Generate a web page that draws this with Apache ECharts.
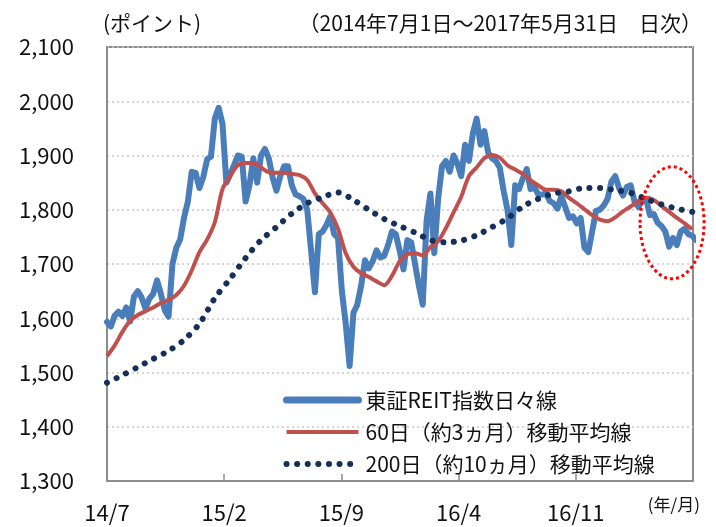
<!DOCTYPE html>
<html>
<head>
<meta charset="utf-8">
<script src="https://cdn.jsdelivr.net/npm/echarts@6/dist/echarts.min.js"></script>
<style>
html, body { margin: 0; padding: 0; background: #fff; }
#charts { width: 716px; height: 527px; }
</style>
</head>
<body>
<div id="charts"></div>
<script>
// period starts 2014-07-01, x axis is counted in months from there
var daysPerMonth = 30.4375;
var xTickLabels = ['14/7', '15/2', '15/9', '16/4', '16/11'];

// weekly readings of the daily REIT index (step 7 days)
var reitStep = 7;
var reitWeekly = [
    1593, 1585, 1605, 1612, 1604, 1620, 1594, 1640, 1650, 1638,
    1618, 1636, 1645, 1670, 1645, 1615, 1603, 1700, 1730, 1745,
    1785, 1815, 1870, 1868, 1840, 1860, 1893, 1898, 1968, 1988,
    1958, 1850, 1865, 1882, 1900, 1898, 1815, 1845, 1895, 1850,
    1900, 1912, 1895, 1860, 1835, 1862, 1880, 1880, 1845, 1828,
    1825, 1820, 1800, 1725, 1648, 1755, 1760, 1772, 1788, 1755,
    1748, 1650, 1590, 1512, 1610, 1625, 1660, 1707, 1692, 1705,
    1725, 1712, 1715, 1735, 1760, 1755, 1725, 1690, 1744, 1740,
    1700, 1660, 1625, 1780, 1830, 1720, 1820, 1880, 1890, 1870,
    1900, 1885, 1862, 1920, 1890, 1940, 1968, 1920, 1945, 1905,
    1895, 1890, 1878, 1835, 1800, 1735, 1845, 1838, 1858, 1875,
    1838, 1842, 1828, 1828, 1830, 1816, 1812, 1802, 1825, 1805,
    1785, 1788, 1775, 1785, 1730, 1722, 1760, 1798, 1800, 1808,
    1820, 1852, 1862, 1840, 1826, 1842, 1845, 1815, 1805, 1818,
    1820, 1790, 1792, 1776, 1770, 1760, 1732, 1748, 1735, 1760,
    1765, 1755, 1752, 1744
];

// 60-day moving average, read every 14 days
var ma60Step = 14;
var ma60 = [
    1530, 1550, 1575, 1595, 1606, 1613, 1620, 1628, 1634, 1643,
    1660, 1688, 1722, 1745, 1777, 1838, 1862, 1882, 1886, 1886,
    1878, 1869, 1868, 1868, 1866, 1864, 1855, 1830, 1812, 1795,
    1765, 1720, 1695, 1683, 1676, 1668, 1661, 1678, 1705, 1718,
    1720, 1716, 1731, 1742, 1766, 1795, 1824, 1862, 1878, 1895,
    1901, 1896, 1882, 1874, 1866, 1854, 1845, 1837, 1837, 1834,
    1822, 1812, 1801, 1790, 1782, 1779, 1786, 1797, 1806, 1816,
    1822, 1818, 1807, 1796, 1785, 1775, 1764
];

// 200-day moving average, read every 28 days
var ma200Step = 28;
var ma200 = [
    1481, 1495, 1510, 1525, 1540, 1560, 1590, 1637, 1673, 1711,
    1744, 1768, 1793, 1812, 1823, 1832, 1818, 1800, 1783, 1770,
    1758, 1744, 1740, 1743, 1753, 1768, 1784, 1806, 1820, 1830,
    1834, 1840, 1840, 1836, 1831, 1820, 1810, 1802, 1796
];

var seriesNames = ['東証REIT指数日々線', '60日（約3ヵ月）移動平均線', '200日（約10ヵ月）移動平均線'];
var colors = ['#4a7ebb', '#c0504d', '#17305a'];

function toPairs(values, stepDays) {
    var out = [];
    for (var i = 0; i < values.length; i++) {
        out.push([i * stepDays / daysPerMonth, values[i]]);
    }
    return out;
}

var font = 'Noto Sans CJK JP';
var chart = echarts.init(document.getElementById('charts'));

var dotLine = { color: colors[2], width: 6, type: [0.1, 10.5], cap: 'round' };

var option = {
    animation: false,
    textStyle: { fontFamily: font },
    grid: {
        left: 107, right: 23, top: 47, bottom: 46,
        show: true,
        borderColor: '#8c8c8c',
        borderWidth: 2
    },
    legend: {
        orient: 'vertical',
        left: 278,
        top: 383,
        itemWidth: 72,
        itemHeight: 14,
        itemGap: 8,
        itemStyle: { color: 'rgba(0,0,0,0)', borderWidth: 0 },
        textStyle: { fontFamily: font, fontSize: 21, color: '#111', lineHeight: 24, padding: [0, 0, 0, 2] },
        data: [
            { name: seriesNames[0], lineStyle: { color: colors[0], width: 7, cap: 'round' } },
            { name: seriesNames[1], lineStyle: { color: colors[1], width: 4 } },
            { name: seriesNames[2], lineStyle: dotLine }
        ]
    },
    xAxis: {
        type: 'value',
        min: 0,
        max: 35,
        interval: 7,
        axisLine: { show: true, lineStyle: { color: '#8c8c8c', width: 2 } },
        axisTick: { show: true, inside: true, length: 7, lineStyle: { color: '#8c8c8c', width: 1.5 } },
        splitLine: { show: false },
        axisLabel: {
            margin: 21,
            fontSize: 22,
            color: '#111',
            fontFamily: font,
            formatter: function (v) {
                var k = Math.round(v / 7);
                return xTickLabels[k] || '';
            }
        }
    },
    yAxis: {
        type: 'value',
        min: 1300,
        max: 2100,
        interval: 100,
        axisLine: { show: true, lineStyle: { color: '#8c8c8c', width: 2 } },
        axisTick: { show: false },
        splitLine: { show: true, lineStyle: { color: '#c8c8c8', type: [2, 3], width: 1.5 } },
        axisLabel: {
            margin: 33,
            fontSize: 22,
            color: '#111',
            fontFamily: font,
            formatter: function (v) {
                return String(v).replace(/\B(?=(\d{3})+(?!\d))/g, ',');
            }
        }
    },
    series: [
        {
            name: seriesNames[0],
            type: 'line',
            symbol: 'none',
            lineStyle: { color: colors[0], width: 6, cap: 'round', join: 'round' },
            itemStyle: { color: colors[0] },
            data: toPairs(reitWeekly, reitStep)
        },
        {
            name: seriesNames[1],
            type: 'line',
            symbol: 'none',
            smooth: 0.3,
            lineStyle: { color: colors[1], width: 4 },
            itemStyle: { color: colors[1] },
            data: toPairs(ma60, ma60Step)
        },
        {
            name: seriesNames[2],
            type: 'line',
            symbol: 'none',
            smooth: 0.3,
            lineStyle: dotLine,
            itemStyle: { color: colors[2] },
            data: toPairs(ma200, ma200Step)
        }
    ],
    graphic: [
        {
            id: 'unit', type: 'text', left: 103, top: 13,
            style: { text: '(ポイント)', font: '21px "Noto Sans CJK JP"', fill: '#111' }
        },
        {
            id: 'period', type: 'text', right: 14, top: 13,
            style: { text: '（2014年7月1日～2017年5月31日　日次）', font: '21px "Noto Sans CJK JP"', fill: '#111' }
        },
        {
            id: 'xunit', type: 'text', right: 16, top: 496,
            style: { text: '(年/月)', font: '17px "Noto Sans CJK JP"', fill: '#111' }
        }
    ]
};

chart.setOption(option);

// dotted red ellipse marking the latest period
var c = chart.convertToPixel({ gridIndex: 0 }, [33.75, 1776]);
chart.setOption({
    graphic: [
        {
            id: 'mark',
            type: 'ellipse',
            z: 100,
            shape: { cx: c[0], cy: c[1], rx: 32, ry: 56 },
            style: { fill: 'none', stroke: '#ff0000', lineWidth: 3, lineDash: [3, 3] }
        }
    ]
});
</script>
</body>
</html>
